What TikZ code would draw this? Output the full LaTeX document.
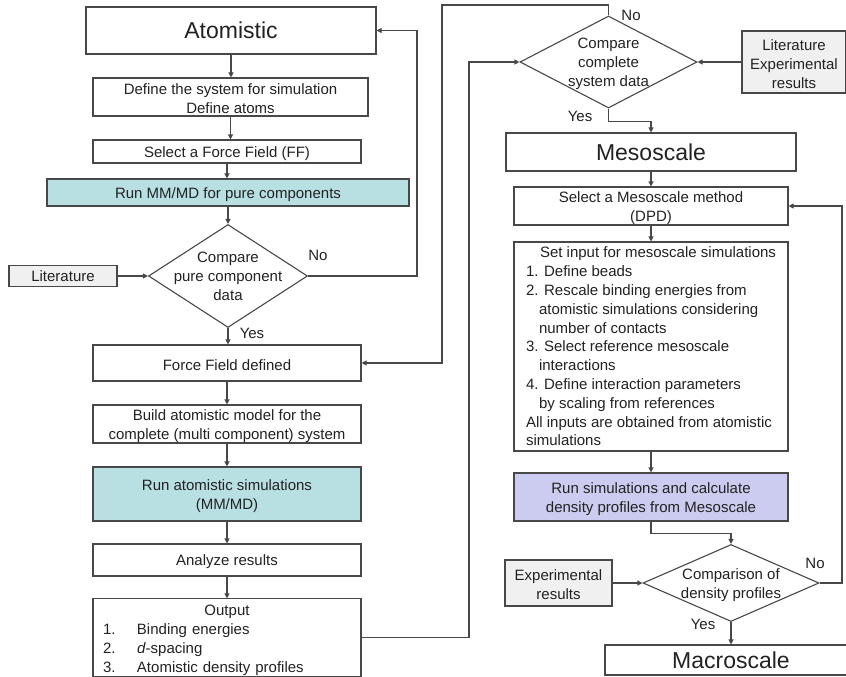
\documentclass[tikz,border=0pt]{standalone}
\usepackage{fontspec}
\setmainfont{Liberation Sans}
\usetikzlibrary{arrows.meta,shapes.geometric,calc}
\definecolor{teal}{HTML}{B8E0E3}
\definecolor{lav}{HTML}{CCCCF0}
\definecolor{note}{HTML}{F0F0F0}
\definecolor{ink}{HTML}{484848}
\definecolor{txt}{HTML}{222222}
% invisible strut that sets the first text line a little lower in its box
\newcommand\lowstrut{\rule{0pt}{15pt}}

\begin{document}
\begin{tikzpicture}[x=1pt,y=-1pt,
  every node/.style={font=\fontsize{15}{19}\selectfont, text=txt},
  box/.style={draw=ink, line width=1.1pt, fill=white, inner sep=0pt, align=center},
  title/.style={font=\fontsize{23}{27}\selectfont},
  dia/.style={draw=ink, line width=1.1pt, fill=white, shape=diamond, inner sep=0pt},
  link/.style={draw=ink, line width=1.1pt, -{Triangle[length=5pt,width=5pt]}},
  tag/.style={inner sep=0pt}]

\path[use as bounding box, clip] (0,0) rectangle (846,677);
\fill[white] (0,0) rectangle (846,677);

% ---------- atomistic column ----------
\node[box, title, minimum width=290, minimum height=47] (atom) at (231,30.5) {Atomistic};
\node[box, minimum width=275, minimum height=38] (define) at (230.5,97) {\lowstrut Define the system for simulation\\Define atoms};
\node[box, minimum width=268, minimum height=23] (ffsel) at (227,151.5) {\lowstrut Select a Force Field (FF)};
\node[box, fill=teal, minimum width=362, minimum height=27] (runpure) at (228,192.5) {\lowstrut Run MM/MD for pure components};
\node[dia, minimum width=159, minimum height=103] (cmp1) at (228,276) {};
\node[align=center] at (cmp1) {Compare\\pure component\\data};
\node[box, fill=note, minimum width=108, minimum height=21] (lit) at (63,276) {Literature};
\node[box, minimum width=268, minimum height=36] (ffdef) at (227,363) {\lowstrut Force Field defined};
\node[box, minimum width=268, minimum height=38] (build) at (227,424) {\lowstrut Build atomistic model for the\\complete (multi component) system};
\node[box, fill=teal, minimum width=268, minimum height=54] (runatom) at (227,494) {\lowstrut Run atomistic simulations\\(MM/MD)};
\node[box, minimum width=268, minimum height=32] (analyze) at (227,560) {\lowstrut Analyze results};
\node[box, minimum width=268, minimum height=77, text width=248, inner xsep=10pt, align=left] (output) at (227,637.5)
  {\rule{0pt}{17pt}\makebox[248pt][c]{Output}\\
   \makebox[34pt][l]{1.}Binding energies\\
   \makebox[34pt][l]{2.}\textit{d}-spacing\\
   \makebox[34pt][l]{3.}Atomistic density profiles};

% ---------- mesoscale column ----------
\node[dia, minimum width=177, minimum height=92] (cmp2) at (608.5,62) {};
\node[align=center] at (cmp2) {\lowstrut Compare\\complete\\system data};
\node[box, fill=note, minimum width=104, minimum height=62] (litexp) at (794,62) {\lowstrut Literature\\Experimental\\results};
\node[box, title, minimum width=290, minimum height=38] (meso) at (651,152) {Mesoscale};
\node[box, minimum width=274, minimum height=38] (selmeso) at (651,206) {\lowstrut Select a Mesoscale method\\(DPD)};
\node[box, minimum width=274, minimum height=209, align=left, font=\fontsize{15}{18.8}\selectfont] (setin) at (651,346.5)
  {\hspace*{14pt}Set input for mesoscale simulations\\
   1. Define beads\\
   2. Rescale binding energies from\\
   \hspace*{13pt}atomistic simulations considering\\
   \hspace*{13pt}number of contacts\\
   3. Select reference mesoscale\\
   \hspace*{13pt}interactions\\
   4. Define interaction parameters\\
   \hspace*{13pt}by scaling from references\\
   All inputs are obtained from atomistic\\
   simulations};
\node[box, fill=lav, minimum width=274, minimum height=48] (runmeso) at (651,497) {\lowstrut Run simulations and calculate\\density profiles from Mesoscale};
\node[dia, minimum width=176, minimum height=77] (cmp3) at (731,583) {};
\node[align=center] at (cmp3) {\lowstrut Comparison of\\density profiles};
\node[box, fill=note, minimum width=107, minimum height=46] (exp) at (558.5,583) {\lowstrut Experimental\\results};
\node[box, title, minimum width=252, minimum height=30] (macro) at (731,660) {Macroscale};

% ---------- routing columns ----------
\coordinate (rA) at (417,0);
\coordinate (rB) at (442,5);
\coordinate (rC) at (469,0);
\coordinate (rD) at (842,0);

% ---------- connectors, atomistic ----------
\draw[link] (atom.south) -- (atom.south |- define.north);
\draw[link] (define.south) -- (define.south |- ffsel.north);
\draw[link] (ffsel.south) -- (ffsel.south |- runpure.north);
\draw[link] (runpure.south) -- (cmp1.north);
\draw[link] (lit.east) -- (cmp1.west);
\draw[link] (cmp1.east) -- (cmp1.east -| rA) |- (atom.east);
\draw[link] (cmp1.south) -- (cmp1.south |- ffdef.north);
\draw[link] (ffdef.south) -- (build.north);
\draw[link] (build.south) -- (runatom.north);
\draw[link] (runatom.south) -- (analyze.north);
\draw[link] (analyze.south) -- (output.north);
\node[tag] at (318,255) {No};
\node[tag] at (252,333) {Yes};

% ---------- connectors, across and mesoscale ----------
\draw[link] (output.east) -| (rC |- cmp2.west) -- (cmp2.west);
\draw[link] (cmp2.north) -- (cmp2.north |- rB) -| (rB |- ffdef.east) -- (ffdef.east);
\draw[link] (litexp.west) -- (cmp2.east);
\draw[link] (cmp2.south) -- ++(0,13) -| (meso.north);
\draw[link] (meso.south) -- (selmeso.north);
\draw[link] (selmeso.south) -- (setin.north);
\draw[link] (setin.south) -- (runmeso.north);
\draw[link] (runmeso.south) -- ++(0,12) -| (cmp3.north);
\draw[link] (exp.east) -- (cmp3.west);
\draw[link] (cmp3.east) -- (cmp3.east -| rD) |- (selmeso.east);
\draw[link] (cmp3.south) -- (macro.north);
\node[tag] at (631,15) {No};
\node[tag] at (580,116) {Yes};
\node[tag] at (815,563) {No};
\node[tag] at (703,624) {Yes};
\end{tikzpicture}
\end{document}
